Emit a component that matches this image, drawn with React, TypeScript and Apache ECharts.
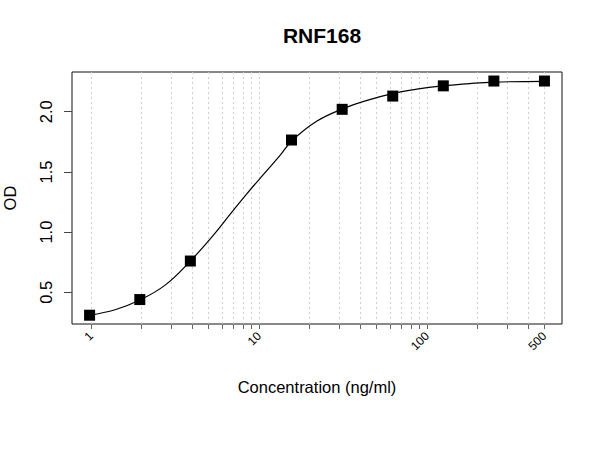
import React, { useEffect, useRef } from "react";
import * as echarts from "echarts";

const title = "RNF168";
const xName = "Concentration (ng/ml)";
const yName = "OD";

// measured standards
const concentrations = [0.98, 1.95, 3.9, 15.6, 31.25, 62.5, 125, 250, 500];
const odValues = [0.31, 0.44, 0.76, 1.765, 2.02, 2.13, 2.215, 2.255, 2.255];

// fitted curve
const curveX = [0.98, 1.39, 1.95, 2.76, 3.9, 5.35, 6.72, 8.45, 10.6, 13.3, 15.6, 22, 31.6, 44, 63, 87, 124, 180, 247, 500];
const curveY = [0.31, 0.355, 0.436, 0.56, 0.76, 0.975, 1.148, 1.318, 1.478, 1.635, 1.755, 1.92, 2.025, 2.094, 2.152, 2.187, 2.214, 2.234, 2.246, 2.252];

// axis ticks and labels
const xTickValues = [1, 2, 3, 4, 5, 6, 7, 8, 9, 10, 20, 30, 40, 50, 60, 70, 80, 90, 100, 200, 300, 400, 500];
const xLabelValues = [1, 10, 100, 500];
const yTickValues = [0.5, 1.0, 1.5, 2.0];

export default function App() {
  const ref = useRef<HTMLDivElement>(null);
  useEffect(() => {
    if (!ref.current) return;
    const chart = echarts.init(ref.current, null, { renderer: "svg" });
    const font = "Arial, 'Liberation Sans', sans-serif";
    chart.setOption({
      animation: false,
      backgroundColor: "#ffffff",
      title: {
        text: title,
        left: 317,
        top: 20,
        textAlign: "center",
        textStyle: { fontFamily: font, fontSize: 21, fontWeight: "bold", color: "#000" },
      },
      grid: {
        left: 72,
        right: 38,
        top: 72,
        bottom: 126,
        show: true,
        containLabel: false,
        outerBoundsMode: "none",
        borderColor: "#111",
        borderWidth: 1,
        backgroundColor: "transparent",
      },
      xAxis: {
        type: "log",
        logBase: 10,
        min: 0.77,
        max: 636,
        name: xName,
        nameLocation: "middle",
        nameGap: 54,
        nameTextStyle: { fontFamily: font, fontSize: 16.5, color: "#000" },
        axisLine: { show: false },
        axisTick: {
          show: true,
          customValues: xTickValues,
          length: 5,
          lineStyle: { color: "#666", width: 1 },
        },
        axisLabel: {
          customValues: xLabelValues,
          rotate: 45,
          margin: 10,
          fontFamily: font,
          fontSize: 12,
          color: "#000",
          formatter: (v: number) => String(Math.round(v)),
        },
        splitLine: {
          show: true,
          lineStyle: { color: "#cfcfcf", type: [2, 3], width: 1 },
        },
      },
      yAxis: {
        type: "value",
        min: 0.237,
        max: 2.33,
        name: yName,
        nameLocation: "middle",
        nameGap: 54,
        nameTextStyle: { fontFamily: font, fontSize: 16.5, color: "#000" },
        axisLine: { show: false },
        axisTick: {
          show: true,
          customValues: yTickValues,
          length: 8,
          lineStyle: { color: "#444", width: 1 },
        },
        axisLabel: {
          customValues: yTickValues,
          rotate: 90,
          margin: 18,
          fontFamily: font,
          fontSize: 16.5,
          color: "#000",
          formatter: (v: number) => v.toFixed(1),
        },
        splitLine: { show: false },
      },
      series: [
        {
          type: "line",
          data: curveX.map((x, i) => [x, curveY[i]]),
          smooth: 0.4,
          showSymbol: false,
          symbol: "none",
          lineStyle: { color: "#000", width: 1.2 },
          z: 2,
        },
        {
          type: "scatter",
          data: concentrations.map((x, i) => [x, odValues[i]]),
          symbol: "rect",
          symbolSize: 11,
          itemStyle: { color: "#000", opacity: 1 },
          z: 3,
        },
      ],
    });
    return () => chart.dispose();
  }, []);
  return (
    <div
      ref={ref}
      style={{ position: "fixed", left: 0, top: 0, width: 600, height: 450, background: "#fff" }}
    />
  );
}
